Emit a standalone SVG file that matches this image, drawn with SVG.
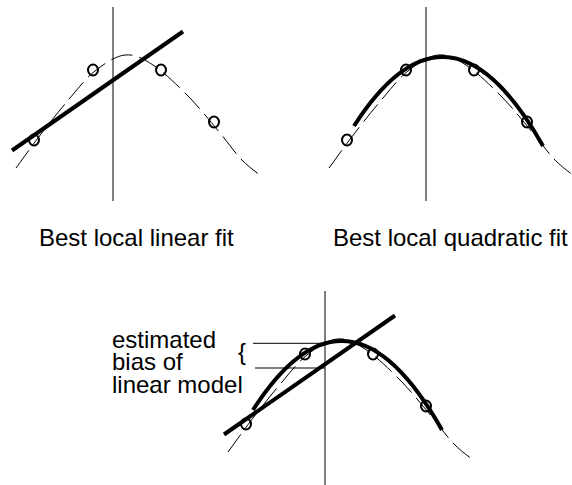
<svg xmlns="http://www.w3.org/2000/svg" width="572" height="485" viewBox="0 0 572 485">
<style>
.axis{stroke:#000;stroke-width:1;fill:none}
.true{stroke:#000;stroke-width:1;fill:none;stroke-dasharray:22 7}
.fit{stroke:#000;stroke-width:4;fill:none}
.pt{stroke:#000;stroke-width:2;fill:none}
.thin{stroke:#000;stroke-width:1}
.lbl{font-family:"Liberation Sans",Arial,sans-serif;font-size:24px;fill:#000}
</style>
<defs>
<path id="trueCurve" class="true" d="M-97,168 C-88.7,156.7 -81,145.7 -72,134 C-63,122.3 -52,108.5 -43,98 C-34,87.5 -27.2,78.2 -18,71 C-8.8,63.8 2.3,56 12,55 C21.7,54 29.5,58.2 40,65 C50.5,71.8 63.8,84.7 75,96 C86.2,107.3 98.2,122.5 107,133 C115.8,143.5 121.3,152 128,159 C134.7,166 141.7,171.2 147,175"/>
<g id="points" class="pt">
<ellipse cx="-79" cy="140" rx="5" ry="5.5"/>
<ellipse cx="-20" cy="70" rx="5" ry="5.5"/>
<ellipse cx="48" cy="70" rx="5" ry="5.5"/>
<ellipse cx="101" cy="122" rx="5" ry="5.5"/>
</g>
<line id="linFit" class="fit" x1="-101" y1="150.5" x2="70" y2="31.5"/>
<path id="quadFit" class="fit" d="M-72,126 Q22.5,-21.4 117,146"/>
</defs>
<g id="panel-linear" transform="translate(113,0)">
<line class="axis" x1="0" y1="7" x2="0" y2="201"/>
<use href="#trueCurve"/>
<use href="#points"/>
<use href="#linFit"/>
</g>
<g id="panel-quadratic" transform="translate(426,0)">
<line class="axis" x1="0" y1="7" x2="0" y2="201"/>
<use href="#trueCurve"/>
<use href="#points"/>
<use href="#quadFit"/>
</g>
<g id="panel-bias" transform="translate(325,284)">
<line class="axis" x1="0" y1="7" x2="0" y2="201"/>
<use href="#trueCurve"/>
<use href="#points"/>
<use href="#linFit"/>
<use href="#quadFit"/>
<line class="thin" x1="-72" y1="59.3" x2="0" y2="59.3"/>
<line class="thin" x1="-70" y1="84" x2="0" y2="84"/>
</g>
<g id="labels">
<text class="lbl" x="39" y="246">Best local linear fit</text>
<text class="lbl" x="333" y="246">Best local quadratic fit</text>
<text class="lbl" x="112" y="347.5">estimated</text>
<text class="lbl" x="112" y="370">bias of</text>
<text class="lbl" x="112" y="392.5">linear model</text>
<text class="lbl" x="238" y="360">{</text>
</g>
</svg>
